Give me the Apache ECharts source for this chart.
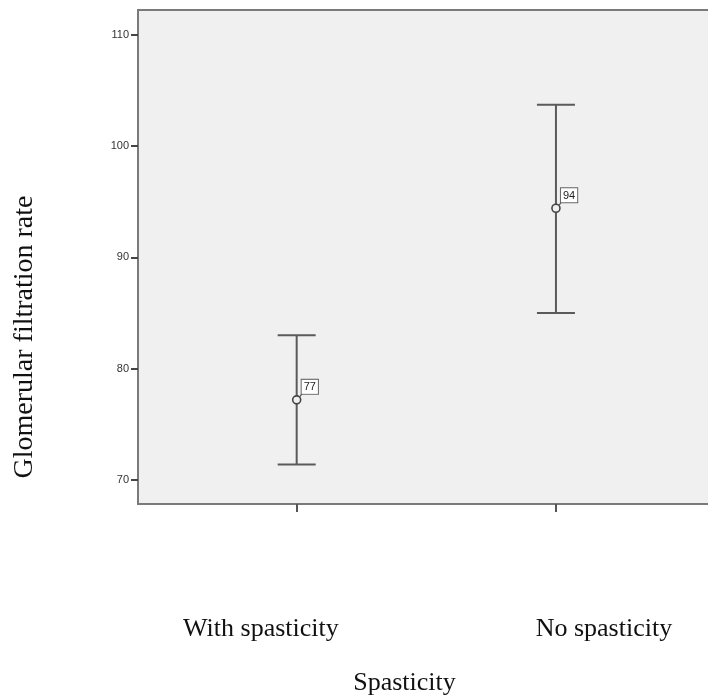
<!DOCTYPE html>
<html>
<head>
<meta charset="utf-8">
<script src="https://cdn.jsdelivr.net/npm/echarts@6/dist/echarts.min.js"></script>
<style>html,body{margin:0;padding:0;background:#fff;}#c{width:708px;height:697px;}</style>
</head>
<body>
<div id="c"></div>
<script>
const categories = ['With spasticity', 'No spasticity'];
const means = [77.2, 94.4];
const lower = [71.4, 85.0];
const upper = [83.0, 103.7];
const meanLabels = ['77', '94'];
const yTicks = [70, 80, 90, 100, 110];
const xTicks = [1, 2];

const chart = echarts.init(document.getElementById('c'));
const seriesData = categories.map((c, i) => [xTicks[i], means[i], lower[i], upper[i], meanLabels[i]]);
const lineColor = '#5a5a5a';

const option = {
  animation: false,
  backgroundColor: '#ffffff',
  grid: {
    left: 138, top: 10, right: -3, bottom: 193,
    outerBoundsMode: 'none',
    show: true, backgroundColor: '#f0f0f0', borderColor: '#7a7a7a', borderWidth: 2
  },
  xAxis: {
    type: 'value', min: 0.388, max: 2.598,
    splitLine: { show: false },
    axisLine: { show: true, lineStyle: { color: '#7a7a7a', width: 2 } },
    axisTick: { show: true, length: 8, customValues: xTicks, lineStyle: { color: '#555', width: 2 } },
    axisLabel: {
      customValues: [0.862, 2.185],
      formatter: v => (v < 1.5 ? categories[0] : categories[1]),
      margin: 112, fontFamily: 'Liberation Serif', fontSize: 26, color: '#111'
    },
    name: 'Spasticity', nameLocation: 'middle', nameGap: 166,
    nameTextStyle: { fontFamily: 'Liberation Serif', fontSize: 26, color: '#111', padding: [0, 40, 0, 0] }
  },
  yAxis: {
    type: 'value', min: 67.85, max: 112.2,
    splitLine: { show: false },
    axisLine: { show: true, lineStyle: { color: '#7a7a7a', width: 2 } },
    axisTick: { show: true, length: 7, customValues: yTicks, lineStyle: { color: '#444', width: 2 } },
    axisLabel: { customValues: yTicks, margin: 9, fontFamily: 'Liberation Sans', fontSize: 11, color: '#333' },
    name: 'Glomerular filtration rate', nameLocation: 'middle', nameGap: 99,
    nameTextStyle: { fontFamily: 'Liberation Serif', fontSize: 28, color: '#111', padding: [0, 160, 0, 0] }
  },
  series: [{
    type: 'custom',
    data: seriesData,
    encode: { x: 0, y: [1, 2, 3] },
    renderItem: function (params, api) {
      const x = api.value(0);
      const p = api.coord([x, api.value(1)]);
      const lo = api.coord([x, api.value(2)]);
      const hi = api.coord([x, api.value(3)]);
      const cap = 19;
      const ls = { stroke: lineColor, lineWidth: 2 };
      return {
        type: 'group',
        children: [
          { type: 'line', shape: { x1: lo[0], y1: lo[1], x2: p[0], y2: p[1] + 4 }, style: ls },
          { type: 'line', shape: { x1: p[0], y1: p[1] - 4, x2: hi[0], y2: hi[1] }, style: ls },
          { type: 'line', shape: { x1: hi[0] - cap, y1: hi[1], x2: hi[0] + cap, y2: hi[1] }, style: ls },
          { type: 'line', shape: { x1: lo[0] - cap, y1: lo[1], x2: lo[0] + cap, y2: lo[1] }, style: ls },
          { type: 'circle', shape: { cx: p[0], cy: p[1], r: 4 }, style: { fill: 'none', stroke: '#444', lineWidth: 1.6 } },
          { type: 'line', shape: { x1: p[0] + 3, y1: p[1] - 3, x2: p[0] + 6, y2: p[1] - 7 }, style: { stroke: lineColor, lineWidth: 1.2 } },
          {
            type: 'text', x: p[0] + 5, y: p[1] - 6,
            style: {
              text: api.value(4), font: '11px "Liberation Sans"', fill: '#222',
              align: 'left', verticalAlign: 'bottom',
              backgroundColor: '#ffffff', borderColor: '#666', borderWidth: 1, padding: [2, 2, 1, 2]
            }
          }
        ]
      };
    }
  }]
};
chart.setOption(option);
</script>
</body>
</html>
